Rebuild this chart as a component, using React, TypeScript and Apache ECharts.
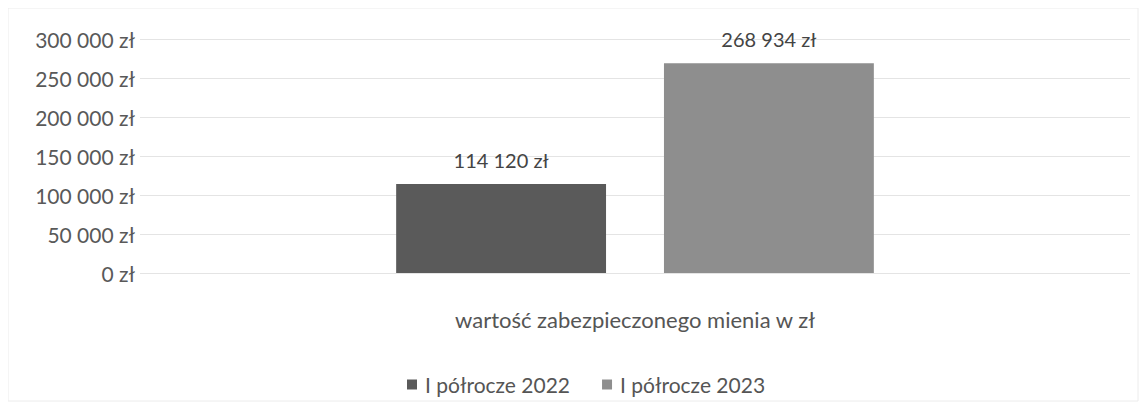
import React, { useEffect, useRef } from "react";
import * as echarts from "echarts";

const categories = ["wartość zabezpieczonego mienia w zł"];
const seriesNames = ["I półrocze 2022", "I półrocze 2023"];
const values2022 = [114120];
const values2023 = [268934];
const yTicks = [0, 50000, 100000, 150000, 200000, 250000, 300000];

const fmt = (v: number) =>
  String(Math.round(v)).replace(/\B(?=(\d{3})+(?!\d))/g, " ") + " zł";

export default function App() {
  const ref = useRef<HTMLDivElement>(null);
  useEffect(() => {
    if (!ref.current) return;
    const chart = echarts.init(ref.current, null, { renderer: "svg" });
    const font = "Lato, 'Open Sans', sans-serif";
    const label = {
      show: true,
      position: "top",
      distance: 14,
      fontSize: 20,
      color: "#444",
      fontFamily: font,
      formatter: (p: any) => fmt(p.value),
    };
    chart.setOption({
      animation: false,
      backgroundColor: "#ffffff",
      textStyle: { fontFamily: font },
      grid: { left: 132, right: 9, top: 31, bottom: 129 },
      legend: {
        left: 394,
        top: 361,
        itemWidth: 10,
        itemHeight: 10,
        itemGap: 32,
        icon: "rect",
        textStyle: { fontFamily: font, fontSize: 21, color: "#555", padding: [0, 0, 0, 3] },
        data: seriesNames,
      },
      xAxis: {
        type: "category",
        data: categories,
        axisLine: { show: false },
        axisTick: { show: false },
        axisLabel: { margin: 35, fontSize: 22, color: "#555", fontFamily: font },
      },
      yAxis: {
        type: "value",
        min: yTicks[0],
        max: yTicks[yTicks.length - 1],
        interval: 50000,
        axisLine: { show: false },
        axisTick: { show: false },
        splitLine: { lineStyle: { color: "#e4e4e4", width: 1 } },
        axisLabel: {
          margin: 5,
          fontSize: 21,
          color: "#595959",
          fontFamily: font,
          formatter: (v: number) => fmt(v),
        },
      },
      series: [
        {
          name: seriesNames[0],
          type: "bar",
          data: values2022,
          barWidth: "21.2%",
          barGap: "27.6%",
          itemStyle: { color: "#5a5a5a" },
          label,
        },
        {
          name: seriesNames[1],
          type: "bar",
          data: values2023,
          barWidth: "21.2%",
          barGap: "27.6%",
          itemStyle: { color: "#8e8e8e" },
          label,
        },
      ],
      graphic: [
        {
          type: "rect",
          shape: { x: 0, y: 0, width: 1130, height: 393 },
          style: { fill: "none", stroke: "#ececec", lineWidth: 1 },
          silent: true,
        },
      ],
    });
    return () => chart.dispose();
  }, []);
  return <div ref={ref} style={{ width: 1131, height: 394 }} />;
}
